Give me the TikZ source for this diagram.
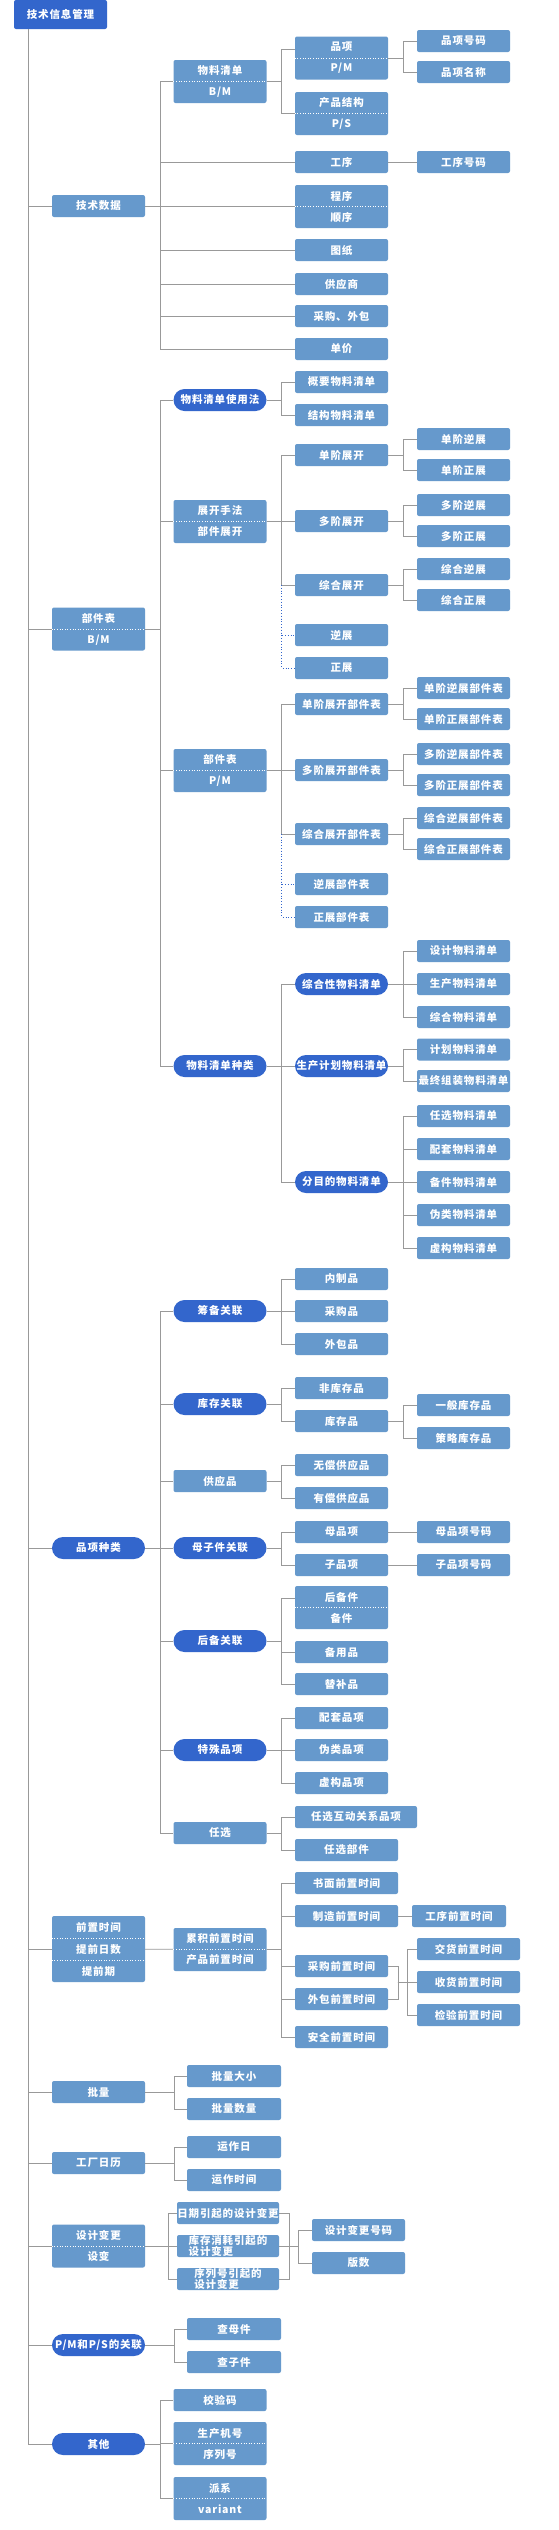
\documentclass[tikz,border=0pt]{standalone}
\usepackage{fontspec}
\newfontfamily\lblfont{Noto Sans CJK SC}[LetterSpace=8]
\definecolor{boxblue}{HTML}{6699CC}
\definecolor{darkblue}{HTML}{3366CC}
\definecolor{linegray}{HTML}{999999}
\begin{document}
\begin{tikzpicture}[x=1pt, y=-1pt,
  box/.style={fill=boxblue, rounded corners=2pt, text=white, minimum width=93pt, minimum height=22pt, inner sep=0pt, font=\lblfont\bfseries\fontsize{10.5}{12}\selectfont},
  pill/.style={box, fill=darkblue, rounded corners=11pt},
  dbl/.style={box, minimum height=43pt, align=center, font=\lblfont\bfseries\fontsize{10.5}{21}\selectfont},
  tight/.style={box, align=left, font=\lblfont\bfseries\fontsize{10.5}{9.7}\selectfont},
  link/.style={linegray, line width=0.8pt},
  dlink/.style={darkblue, dotted, line width=0.8pt},
  divider/.style={white, dotted, line width=0.6pt}]
  \path[use as bounding box, fill=white] (0,0) rectangle (558,2530);

  \node[box, fill=darkblue, minimum height=29pt] (root) at (60.5,14.5) {技术信息管理};

  \node[box] (techdata) at (98.5,206) {技术数据};
  \node[dbl] (bom) at (220,81.5) {物料清单\\B/M};
  \node[dbl] (item) at (341.5,58) {品项\\P/M};
  \node[box] (itemno) at (463.5,41) {品项号码};
  \node[box] (itemname) at (463.5,72) {品项名称};
  \node[dbl] (struct) at (341.5,113.5) {产品结构\\P/S};
  \node[box] (oper) at (341.5,162) {工序};
  \node[box] (operno) at (463.5,162) {工序号码};
  \node[dbl] (routing) at (341.5,206.5) {程序\\顺序};
  \node[box] (drawing) at (341.5,250) {图纸};
  \node[box] (vendor) at (341.5,284) {供应商};
  \node[box] (buyout) at (341.5,316) {采购、外包};
  \node[box] (price) at (341.5,349) {单价};

  \node[dbl] (partbm) at (98.5,629) {部件表\\B/M};
  \node[pill] (bomuse) at (220,400) {物料清单使用法};
  \node[box] (sumbom) at (341.5,382) {概要物料清单};
  \node[box] (strbom) at (341.5,415) {结构物料清单};
  \node[dbl] (explode) at (220,521.5) {展开手法\\部件展开};
  \node[box] (sgl) at (341.5,455) {单阶展开};
  \node[box] (sglrev) at (463.5,439) {单阶逆展};
  \node[box] (sglfwd) at (463.5,470) {单阶正展};
  \node[box] (mul) at (341.5,521) {多阶展开};
  \node[box] (mulrev) at (463.5,505) {多阶逆展};
  \node[box] (mulfwd) at (463.5,536) {多阶正展};
  \node[box] (sum) at (341.5,585) {综合展开};
  \node[box] (sumrev) at (463.5,569) {综合逆展};
  \node[box] (sumfwd) at (463.5,600) {综合正展};
  \node[box] (rev) at (341.5,635) {逆展};
  \node[box] (fwd) at (341.5,668) {正展};
  \node[dbl] (partpm) at (220,770.5) {部件表\\P/M};
  \node[box] (sgltab) at (341.5,704) {单阶展开部件表};
  \node[box] (sglrevtab) at (463.5,688) {单阶逆展部件表};
  \node[box] (sglfwdtab) at (463.5,719) {单阶正展部件表};
  \node[box] (multab) at (341.5,770) {多阶展开部件表};
  \node[box] (mulrevtab) at (463.5,754) {多阶逆展部件表};
  \node[box] (mulfwdtab) at (463.5,785) {多阶正展部件表};
  \node[box] (sumtab) at (341.5,834) {综合展开部件表};
  \node[box] (sumrevtab) at (463.5,818) {综合逆展部件表};
  \node[box] (sumfwdtab) at (463.5,849) {综合正展部件表};
  \node[box] (revtab) at (341.5,884) {逆展部件表};
  \node[box] (fwdtab) at (341.5,917) {正展部件表};
  \node[pill] (bomkind) at (220,1066) {物料清单种类};
  \node[pill] (compbom) at (341.5,984) {综合性物料清单};
  \node[box] (desbom) at (463.5,951) {设计物料清单};
  \node[box] (prodbom) at (463.5,984) {生产物料清单};
  \node[box] (allbom) at (463.5,1017) {综合物料清单};
  \node[pill] (planbom) at (341.5,1066) {生产计划物料清单};
  \node[box] (pbom) at (463.5,1049.5) {计划物料清单};
  \node[box] (fabom) at (463.5,1081) {最终组装物料清单};
  \node[pill] (purpbom) at (341.5,1182) {分目的物料清单};
  \node[box] (optbom) at (463.5,1116) {任选物料清单};
  \node[box] (kitbom) at (463.5,1149) {配套物料清单};
  \node[box] (sparebom) at (463.5,1182) {备件物料清单};
  \node[box] (pseudobom) at (463.5,1215) {伪类物料清单};
  \node[box] (phantombom) at (463.5,1248) {虚构物料清单};

  \node[pill] (itemkind) at (98.5,1548) {品项种类};
  \node[pill] (prep) at (220,1311) {筹备关联};
  \node[box] (inhouse) at (341.5,1279) {内制品};
  \node[box] (bought) at (341.5,1311) {采购品};
  \node[box] (subcon) at (341.5,1344) {外包品};
  \node[pill] (stock) at (220,1404) {库存关联};
  \node[box] (nonstock) at (341.5,1388) {非库存品};
  \node[box] (stocked) at (341.5,1421) {库存品};
  \node[box] (genstock) at (463.5,1405) {一般库存品};
  \node[box] (stratstock) at (463.5,1438) {策略库存品};
  \node[box] (supply) at (220,1481) {供应品};
  \node[box] (freesup) at (341.5,1465) {无偿供应品};
  \node[box] (paidsup) at (341.5,1498) {有偿供应品};
  \node[pill] (parchild) at (220,1548) {母子件关联};
  \node[box] (parent) at (341.5,1532) {母品项};
  \node[box] (parentno) at (463.5,1532) {母品项号码};
  \node[box] (child) at (341.5,1565) {子品项};
  \node[box] (childno) at (463.5,1565) {子品项号码};
  \node[pill] (backup) at (220,1641) {后备关联};
  \node[dbl] (spare) at (341.5,1607.5) {后备件\\备件};
  \node[box] (standby) at (341.5,1652) {备用品};
  \node[box] (subst) at (341.5,1684) {替补品};
  \node[pill] (special) at (220,1750) {特殊品项};
  \node[box] (kit) at (341.5,1718) {配套品项};
  \node[box] (pseudo) at (341.5,1750) {伪类品项};
  \node[box] (phantom) at (341.5,1783) {虚构品项};
  \node[box] (option) at (220,1833) {任选};
  \node[box, minimum width=122pt] (optrel) at (356,1817) {任选互动关系品项};
  \node[box, minimum width=103pt] (optpart) at (346.5,1850) {任选部件};

  \node[dbl, minimum height=66pt, font=\lblfont\bfseries\fontsize{10.5}{22}\selectfont] (lt) at (98.5,1949) {前置时间\\提前日数\\提前期};
  \node[dbl] (cumlt) at (220,1949.5) {累积前置时间\\产品前置时间};
  \node[box, minimum width=103pt] (paperlt) at (346.5,1883) {书面前置时间};
  \node[box, minimum width=103pt] (mfglt) at (346.5,1916) {制造前置时间};
  \node[box, minimum width=94pt] (oplt) at (459,1916) {工序前置时间};
  \node[box] (purlt) at (341.5,1966) {采购前置时间};
  \node[box] (sublt) at (341.5,1999) {外包前置时间};
  \node[box] (safelt) at (341.5,2037) {安全前置时间};
  \node[box, minimum width=103pt] (dellt) at (468.5,1949) {交货前置时间};
  \node[box, minimum width=103pt] (reclt) at (468.5,1982) {收货前置时间};
  \node[box, minimum width=103pt] (insplt) at (468.5,2015) {检验前置时间};
  \coordinate (ltjoin) at (397.7,1982.5);

  \node[box] (lot) at (98.5,2092) {批量};
  \node[box, minimum width=94pt] (lotsize) at (234,2076) {批量大小};
  \node[box, minimum width=94pt] (lotqty) at (234,2109) {批量数量};
  \node[box] (calendar) at (98.5,2163) {工厂日历};
  \node[box, minimum width=94pt] (workday) at (234,2147) {运作日};
  \node[box, minimum width=94pt] (worktime) at (234,2180) {运作时间};
  \node[dbl] (ecn) at (98.5,2246) {设计变更\\设变};
  \node[box, minimum width=102pt] (ecdate) at (228,2213) {日期引起的设计变更};
  \node[tight, minimum width=102pt] (ecstock) at (228,2246) {库存消耗引起的\\设计变更};
  \node[tight, minimum width=102pt] (ecserial) at (228,2279) {序列号引起的\\设计变更};
  \node[box] (ecno) at (358.5,2230) {设计变更号码};
  \node[box] (version) at (358.5,2263) {版数};
  \coordinate (ecjoin) at (288.7,2246);

  \node[pill] (pmps) at (98.5,2345) {P/M和P/S的关联};
  \node[box, minimum width=94pt] (findpar) at (234,2329) {查母件};
  \node[box, minimum width=94pt] (findchild) at (234,2362) {查子件};
  \node[pill] (other) at (98.5,2444) {其他};
  \node[box] (check) at (220,2400) {校验码};
  \node[dbl] (serial) at (220,2443.5) {生产机号\\序列号};
  \node[dbl] (variant) at (220,2498.5) {派系\\variant};

  \foreach \n in {techdata,partbm,itemkind,lt,lot,calendar,ecn,pmps,other}
    \draw[link] ([xshift=15pt]root.south west) |- (\n.west);

  \foreach \n in {bom,oper,routing,drawing,vendor,buyout,price}
    \draw[link] (techdata.east) -- ++(15,0) |- (\n.west);
  \draw[link] (bom.east) -- ++(15,0) |- ([yshift=9pt]item.west);
  \draw[link] (bom.east) -- ++(15,0) |- (struct.west);
  \foreach \n in {itemno,itemname}
    \draw[link] (item.east) -- ++(15,0) |- (\n.west);
  \draw[link] (oper) -- (operno);

  \foreach \n in {bomuse,explode,partpm,bomkind}
    \draw[link] (partbm.east) -- ++(15,0) |- (\n.west);
  \foreach \n in {sumbom,strbom}
    \draw[link] (bomuse.east) -- ++(15,0) |- (\n.west);
  \foreach \n in {sgl,mul,sum}
    \draw[link] (explode.east) -- ++(15,0) |- (\n.west);
  \foreach \n in {rev,fwd}
    \draw[dlink] ([xshift=-13pt]sum.west) |- (\n.west);
  \foreach \n in {sglrev,sglfwd}
    \draw[link] (sgl.east) -- ++(15,0) |- (\n.west);
  \foreach \n in {mulrev,mulfwd}
    \draw[link] (mul.east) -- ++(15,0) |- (\n.west);
  \foreach \n in {sumrev,sumfwd}
    \draw[link] (sum.east) -- ++(15,0) |- (\n.west);
  \foreach \n in {sgltab,multab,sumtab}
    \draw[link] (partpm.east) -- ++(15,0) |- (\n.west);
  \foreach \n in {revtab,fwdtab}
    \draw[dlink] ([xshift=-13pt]sumtab.west) |- (\n.west);
  \foreach \n in {sglrevtab,sglfwdtab}
    \draw[link] (sgltab.east) -- ++(15,0) |- (\n.west);
  \foreach \n in {mulrevtab,mulfwdtab}
    \draw[link] (multab.east) -- ++(15,0) |- (\n.west);
  \foreach \n in {sumrevtab,sumfwdtab}
    \draw[link] (sumtab.east) -- ++(15,0) |- (\n.west);
  \foreach \n in {compbom,planbom,purpbom}
    \draw[link] (bomkind.east) -- ++(15,0) |- (\n.west);
  \foreach \n in {desbom,prodbom,allbom}
    \draw[link] (compbom.east) -- ++(15,0) |- (\n.west);
  \foreach \n in {pbom,fabom}
    \draw[link] (planbom.east) -- ++(15,0) |- (\n.west);
  \foreach \n in {optbom,kitbom,sparebom,pseudobom,phantombom}
    \draw[link] (purpbom.east) -- ++(15,0) |- (\n.west);

  \foreach \n in {prep,stock,supply,parchild,backup,special,option}
    \draw[link] (itemkind.east) -- ++(15,0) |- (\n.west);
  \foreach \n in {inhouse,bought,subcon}
    \draw[link] (prep.east) -- ++(15,0) |- (\n.west);
  \foreach \n in {nonstock,stocked}
    \draw[link] (stock.east) -- ++(15,0) |- (\n.west);
  \foreach \n in {genstock,stratstock}
    \draw[link] (stocked.east) -- ++(15,0) |- (\n.west);
  \foreach \n in {freesup,paidsup}
    \draw[link] (supply.east) -- ++(15,0) |- (\n.west);
  \foreach \n in {parent,child}
    \draw[link] (parchild.east) -- ++(15,0) |- (\n.west);
  \draw[link] (parent) -- (parentno);
  \draw[link] (child) -- (childno);
  \draw[link] (backup.east) -- ++(15,0) |- ([yshift=9pt]spare.west);
  \foreach \n in {standby,subst}
    \draw[link] (backup.east) -- ++(15,0) |- (\n.west);
  \foreach \n in {kit,pseudo,phantom}
    \draw[link] (special.east) -- ++(15,0) |- (\n.west);
  \foreach \n in {optrel,optpart}
    \draw[link] (option.east) -- ++(15,0) |- (\n.west);

  \draw[link] (lt) -- (cumlt);
  \foreach \n in {paperlt,mfglt,purlt,sublt,safelt}
    \draw[link] (cumlt.east) -- ++(15,0) |- (\n.west);
  \draw[link] (mfglt) -- (oplt);
  \draw[link] (purlt.east) -- ++(9.7,0) |- (sublt.east);
  \foreach \n in {dellt,reclt,insplt}
    \draw[link] (ltjoin) -- ++(10,0) |- (\n.west);

  \foreach \n in {lotsize,lotqty}
    \draw[link] (lot.east) -- ++(28.7,0) |- (\n.west);
  \foreach \n in {workday,worktime}
    \draw[link] (calendar.east) -- ++(28.7,0) |- (\n.west);
  \foreach \n in {ecdate,ecstock,ecserial}
    \draw[link] (ecn.east) -- ++(23,0) |- (\n.west);
  \draw[link] (ecdate.east) -- ++(9.7,0) |- (ecserial.east);
  \draw[link] (ecstock) -- (ecjoin);
  \foreach \n in {ecno,version}
    \draw[link] (ecjoin) -- ++(9.6,0) |- (\n.west);
  \foreach \n in {findpar,findchild}
    \draw[link] (pmps.east) -- ++(28.7,0) |- (\n.west);
  \foreach \n in {check,serial,variant}
    \draw[link] (other.east) -- ++(15,0) |- (\n.west);

  \foreach \n in {bom,item,struct,routing,partbm,explode,partpm,spare,cumlt,ecn,serial,variant}
    \draw[divider] (\n.west) -- (\n.east);
  \draw[divider] ([yshift=11pt]lt.west) -- ([yshift=11pt]lt.east);
  \draw[divider] ([yshift=-11pt]lt.west) -- ([yshift=-11pt]lt.east);
\end{tikzpicture}
\end{document}
